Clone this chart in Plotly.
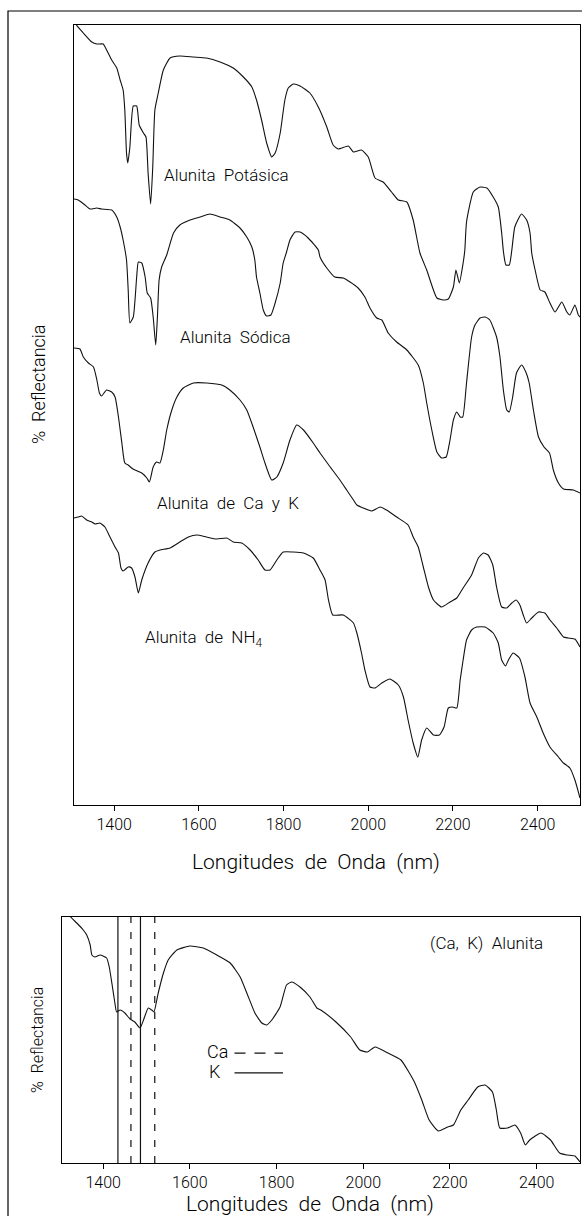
import plotly.graph_objects as go

# Wavelengths (nm) and offset reflectance for the four stacked alunite spectra
pot_wl = [1305, 1311, 1327, 1347, 1359, 1374, 1382, 1394, 1406, 1414, 1421, 1425, 1429, 1432, 1437, 1445, 1453, 1459, 1469, 1475,
          1480, 1486, 1491, 1496, 1504, 1516, 1532, 1555, 1587, 1618, 1650, 1681, 1705, 1725, 1736, 1748, 1760, 1772, 1780, 1792,
          1803, 1811, 1823, 1839, 1862, 1882, 1902, 1917, 1929, 1953, 1965, 1984, 2000, 2016, 2035, 2055, 2071, 2091, 2106, 2122,
          2138, 2162, 2177, 2189, 2201, 2207, 2215, 2224, 2228, 2232, 2248, 2264, 2280, 2295, 2307, 2315, 2319, 2325, 2333, 2339,
          2346, 2362, 2374, 2382, 2386, 2394, 2406, 2417, 2429, 2441, 2457, 2469, 2476, 2488, 2496, 2500]
pot_r = [79.0, 78.0, 77.2, 76.3, 76.1, 76.1, 75.5, 74.5, 73.7, 72.5, 71.5, 69.5, 65.2, 64.2, 65.8, 69.9, 69.9, 68.0, 67.2, 66.8,
         63.2, 60.1, 63.8, 69.5, 71.2, 73.5, 74.7, 74.9, 74.8, 74.7, 74.3, 73.7, 72.8, 71.8, 70.5, 68.5, 66.2, 64.8, 65.2, 67.2,
         70.5, 71.7, 72.1, 71.9, 71.2, 69.8, 67.8, 66.0, 65.6, 65.9, 65.3, 65.5, 64.8, 62.7, 62.3, 61.3, 60.5, 60.3, 58.5, 55.2,
         53.5, 50.7, 50.5, 50.6, 51.8, 53.5, 52.2, 54.2, 55.5, 58.3, 61.3, 61.8, 61.7, 60.8, 59.8, 57.2, 55.4, 54.0, 54.0, 55.5,
         57.8, 59.1, 58.5, 57.2, 55.2, 53.5, 51.5, 51.3, 50.2, 49.3, 50.3, 49.3, 49.0, 50.0, 49.0, 48.8]

sod_wl = [1305, 1315, 1331, 1343, 1359, 1370, 1394, 1406, 1414, 1421, 1429, 1433, 1437, 1445, 1453, 1457, 1465, 1473, 1478, 1486,
          1492, 1498, 1502, 1506, 1512, 1524, 1540, 1555, 1579, 1603, 1626, 1650, 1673, 1697, 1713, 1725, 1732, 1736, 1744, 1752,
          1760, 1770, 1780, 1792, 1799, 1807, 1815, 1827, 1839, 1858, 1882, 1886, 1902, 1921, 1941, 1957, 1976, 1992, 2004, 2020,
          2032, 2047, 2067, 2091, 2118, 2130, 2138, 2150, 2162, 2173, 2184, 2193, 2201, 2209, 2217, 2223, 2232, 2244, 2252, 2264,
          2276, 2287, 2303, 2311, 2319, 2327, 2333, 2341, 2350, 2362, 2373, 2380, 2390, 2402, 2415, 2428, 2437, 2449, 2461, 2484,
          2500]
sod_r = [60.6, 60.5, 60.0, 59.6, 59.7, 59.6, 59.5, 58.8, 57.8, 56.5, 54.5, 51.5, 48.2, 48.8, 52.8, 54.3, 54.2, 52.8, 51.2, 50.7,
         48.8, 46.0, 48.8, 52.5, 53.8, 55.0, 57.2, 58.0, 58.5, 58.8, 59.1, 58.8, 58.5, 57.7, 56.8, 55.8, 54.5, 52.8, 51.2, 49.5,
         48.9, 49.0, 50.2, 52.2, 54.2, 55.3, 56.5, 57.3, 57.3, 56.7, 55.5, 54.8, 53.7, 52.8, 52.7, 52.3, 51.7, 50.8, 49.7, 48.7,
         48.5, 47.2, 46.3, 45.5, 44.0, 42.2, 40.2, 37.5, 35.3, 34.7, 34.8, 36.5, 38.5, 39.3, 38.8, 38.8, 42.2, 46.8, 48.0, 48.7,
         48.8, 48.5, 46.8, 44.8, 41.5, 39.5, 39.3, 40.8, 43.2, 44.0, 43.2, 42.2, 39.5, 36.8, 35.8, 35.2, 33.5, 32.2, 31.6, 31.5,
         31.2]

cak_wl = [1305, 1319, 1327, 1339, 1351, 1359, 1365, 1370, 1382, 1394, 1402, 1410, 1418, 1425, 1433, 1441, 1449, 1465, 1477, 1483,
          1492, 1500, 1508, 1516, 1524, 1536, 1548, 1563, 1587, 1618, 1654, 1673, 1697, 1713, 1728, 1744, 1756, 1772, 1784, 1799,
          1815, 1831, 1847, 1870, 1886, 1910, 1933, 1949, 1965, 1973, 1988, 2008, 2028, 2043, 2067, 2094, 2106, 2118, 2130, 2142,
          2154, 2173, 2193, 2209, 2224, 2244, 2260, 2272, 2283, 2294, 2303, 2315, 2327, 2339, 2349, 2358, 2366, 2374, 2386, 2402,
          2417, 2429, 2445, 2461, 2472, 2488, 2500]
cak_r = [45.7, 45.6, 44.8, 44.2, 43.8, 42.5, 41.2, 40.9, 41.5, 41.3, 40.8, 38.8, 36.2, 34.2, 34.0, 33.7, 33.5, 33.2, 32.7, 32.3,
         33.8, 34.3, 34.2, 35.5, 37.5, 39.5, 40.8, 41.7, 42.2, 42.2, 42.0, 41.5, 40.5, 39.5, 37.8, 35.8, 34.2, 32.5, 32.8, 34.2,
         36.5, 38.0, 37.5, 36.2, 35.2, 33.8, 32.5, 31.5, 30.5, 30.0, 29.7, 29.4, 29.8, 29.5, 28.8, 28.0, 26.8, 25.8, 23.8, 21.8,
         20.5, 19.8, 20.3, 20.7, 21.7, 23.0, 24.7, 25.2, 25.0, 24.0, 21.8, 19.8, 19.7, 20.2, 20.5, 20.0, 19.0, 18.2, 18.7, 19.3,
         19.2, 18.5, 17.7, 16.8, 16.7, 16.6, 15.8]

nh4_wl = [1305, 1315, 1323, 1335, 1347, 1355, 1366, 1378, 1390, 1402, 1410, 1416, 1421, 1433, 1441, 1449, 1457, 1465, 1480, 1496,
          1508, 1532, 1555, 1575, 1595, 1618, 1642, 1666, 1681, 1701, 1721, 1740, 1756, 1768, 1784, 1799, 1823, 1847, 1870, 1886,
          1898, 1906, 1916, 1941, 1965, 1973, 1984, 1992, 2004, 2016, 2032, 2051, 2071, 2083, 2094, 2106, 2117, 2126, 2138, 2154,
          2168, 2179, 2189, 2199, 2209, 2217, 2224, 2232, 2244, 2256, 2276, 2295, 2307, 2315, 2324, 2331, 2342, 2357, 2370, 2382,
          2398, 2413, 2429, 2449, 2461, 2476, 2488, 2500]
nh4_r = [28.7, 28.8, 28.9, 28.5, 28.3, 28.1, 28.2, 27.8, 26.8, 25.8, 25.2, 23.7, 23.4, 23.8, 23.7, 22.8, 21.2, 22.5, 24.2, 25.3,
         25.5, 25.7, 26.3, 26.8, 27.0, 26.8, 26.6, 26.7, 26.3, 26.2, 25.5, 24.5, 23.5, 23.5, 24.5, 25.3, 25.3, 25.2, 24.7, 23.5,
         22.5, 20.5, 19.0, 19.0, 18.2, 17.2, 15.2, 13.5, 11.8, 11.7, 12.2, 12.6, 12.0, 10.8, 8.5, 6.2, 4.8, 6.5, 7.7, 7.0,
         7.0, 7.8, 9.7, 9.8, 9.7, 12.5, 14.5, 16.5, 17.5, 17.8, 17.8, 17.2, 16.2, 14.5, 13.9, 14.5, 15.2, 14.7, 12.8, 10.2,
         8.8, 7.2, 5.8, 4.8, 4.2, 3.7, 2.5, 0.7]

# (Ca, K) alunite spectrum shown alone in the lower panel
ck_wl = [1305, 1325, 1339, 1354, 1362, 1370, 1374, 1381, 1393, 1408, 1414, 1420, 1427, 1431, 1439, 1450, 1462, 1473, 1485, 1493,
         1504, 1512, 1517, 1527, 1539, 1550, 1570, 1600, 1631, 1662, 1693, 1716, 1735, 1750, 1766, 1777, 1789, 1808, 1823, 1835,
         1854, 1877, 1893, 1902, 1937, 1971, 1992, 2010, 2027, 2057, 2087, 2105, 2118, 2135, 2152, 2173, 2195, 2208, 2225, 2242,
         2264, 2281, 2298, 2307, 2315, 2333, 2350, 2363, 2374, 2384, 2410, 2432, 2453, 2470, 2488, 2500]
ck_r = [26.0, 24.6, 24.0, 23.3, 22.8, 21.8, 20.8, 20.6, 20.8, 20.5, 19.6, 18.0, 16.0, 15.1, 15.3, 15.0, 14.4, 14.1, 13.5, 14.3,
        15.5, 15.3, 15.1, 17.0, 19.0, 20.3, 21.3, 21.7, 21.5, 20.8, 20.0, 18.6, 16.6, 15.0, 14.0, 13.8, 14.3, 15.6, 17.8, 18.1,
        17.6, 16.6, 15.5, 15.3, 14.1, 12.6, 11.3, 11.1, 11.6, 11.0, 10.3, 9.1, 8.1, 6.3, 4.3, 3.2, 3.6, 3.8, 5.3, 6.3,
        7.6, 7.8, 7.1, 5.3, 3.5, 3.5, 3.8, 3.0, 1.8, 2.3, 3.0, 2.3, 1.0, 0.8, 0.7, 0.1]

# Absorption band positions (nm) marked in the lower panel
k_bands = [1434, 1486]
ca_bands = [1464, 1519]

tick_vals = [1400, 1600, 1800, 2000, 2200, 2400]
tick_text = ["1400", "1600", "1800", "2000", "2200", "2400"]

# Curve labels: text, anchor wavelength, anchor reflectance
top_labels = ["Alunita  Potásica", "Alunita  Sódica", "Alunita  de  Ca  y  K", "Alunita  de  NH<sub>4</sub>"]
top_label_wl = [1512, 1551, 1496, 1469]
top_label_r = [63.0, 46.8, 30.2, 16.7]

FONT = "Roboto, Liberation Sans, sans-serif"
FW = 300
W, H = 582, 1216
INK = "#111111"


def txt_font(size):
    return dict(family=FONT, size=size, color="black", weight=FW)


fig = go.Figure()
for wl, r in [(pot_wl, pot_r), (sod_wl, sod_r), (cak_wl, cak_r), (nh4_wl, nh4_r)]:
    fig.add_trace(go.Scatter(x=wl, y=r, mode="lines",
                             line=dict(color=INK, width=1.1, shape="spline", smoothing=0.5),
                             xaxis="x", yaxis="y", showlegend=False, hoverinfo="skip"))
fig.add_trace(go.Scatter(x=ck_wl, y=ck_r, mode="lines",
                         line=dict(color=INK, width=1.1, shape="spline", smoothing=0.5),
                         xaxis="x2", yaxis="y2", showlegend=False, hoverinfo="skip"))

axis_common = dict(showline=True, mirror=True, linecolor="black", linewidth=1.2,
                   showgrid=False, zeroline=False)
xcommon = dict(axis_common, range=[1305, 2500], tickmode="array", tickvals=tick_vals, ticktext=tick_text,
               ticks="outside", ticklen=5, tickcolor="black", tickwidth=1,
               tickfont=txt_font(16))
ycommon = dict(axis_common, showticklabels=False, ticks="")

annotations = []
for txt, xw, yr in zip(top_labels, top_label_wl, top_label_r):
    annotations.append(dict(x=xw, y=yr, xref="x", yref="y", text=txt, showarrow=False,
                            xanchor="left", yanchor="middle", font=txt_font(17)))

annotations += [
    dict(x=316 / W, y=1 - 862 / H, xref="paper", yref="paper", text="Longitudes  de  Onda  (nm)",
         showarrow=False, xanchor="center", yanchor="middle", font=txt_font(21)),
    dict(x=38 / W, y=1 - 384 / H, xref="paper", yref="paper", text="%  Reflectancia", textangle=-90,
         showarrow=False, xanchor="center", yanchor="middle", font=txt_font(18)),
    dict(x=310 / W, y=1 - 1204 / H, xref="paper", yref="paper", text="Longitudes  de  Onda  (nm)",
         showarrow=False, xanchor="center", yanchor="middle", font=txt_font(21)),
    dict(x=37 / W, y=1 - 1040 / H, xref="paper", yref="paper", text="%  Reflectancia", textangle=-90,
         showarrow=False, xanchor="center", yanchor="middle", font=txt_font(16)),
    dict(x=2149, y=22.0, xref="x2", yref="y2", text="(Ca,  K)  Alunita",
         showarrow=False, xanchor="left", yanchor="middle", font=txt_font(17)),
    dict(x=0.276, y=0.455, xref="x2 domain", yref="y2 domain", text="Ca",
         showarrow=False, xanchor="left", yanchor="middle", font=txt_font(18)),
    dict(x=0.280, y=0.372, xref="x2 domain", yref="y2 domain", text="K",
         showarrow=False, xanchor="left", yanchor="middle", font=txt_font(18)),
]

shapes = []
for b in k_bands:
    shapes.append(dict(type="line", xref="x2", yref="y2 domain", x0=b, x1=b, y0=0, y1=1,
                       line=dict(color=INK, width=1.2)))
for b in ca_bands:
    shapes.append(dict(type="line", xref="x2", yref="y2 domain", x0=b, x1=b, y0=0, y1=1,
                       line=dict(color=INK, width=1.2, dash="7px,9px")))
# legend keys
shapes.append(dict(type="line", xref="x2 domain", yref="y2 domain", x0=0.333, x1=0.4266, y0=0.447, y1=0.447,
                   line=dict(color=INK, width=1.2, dash="11px,9px")))
shapes.append(dict(type="line", xref="x2 domain", yref="y2 domain", x0=0.333, x1=0.4266, y0=0.366, y1=0.366,
                   line=dict(color=INK, width=1.2)))
# outer page frame
shapes.append(dict(type="rect", xref="paper", yref="paper", x0=8 / W, x1=1.2, y0=-0.2, y1=1 - 11 / H,
                   line=dict(color="black", width=1.2), layer="below"))

fig.update_layout(
    width=W, height=H,
    margin=dict(l=0, r=0, t=0, b=0),
    paper_bgcolor="white", plot_bgcolor="white",
    font=dict(family=FONT, weight=FW),
    xaxis=dict(xcommon, domain=[74 / W, 580 / W], anchor="y"),
    yaxis=dict(ycommon, domain=[1 - 805 / H, 1 - 25 / H], range=[0, 78], anchor="x"),
    xaxis2=dict(xcommon, domain=[62 / W, 580 / W], anchor="y2"),
    yaxis2=dict(ycommon, domain=[1 - 1163 / H, 1 - 917 / H], range=[0, 24.6], anchor="x2"),
    annotations=annotations,
    shapes=shapes,
    showlegend=False,
)

fig.write_html("out.html")
